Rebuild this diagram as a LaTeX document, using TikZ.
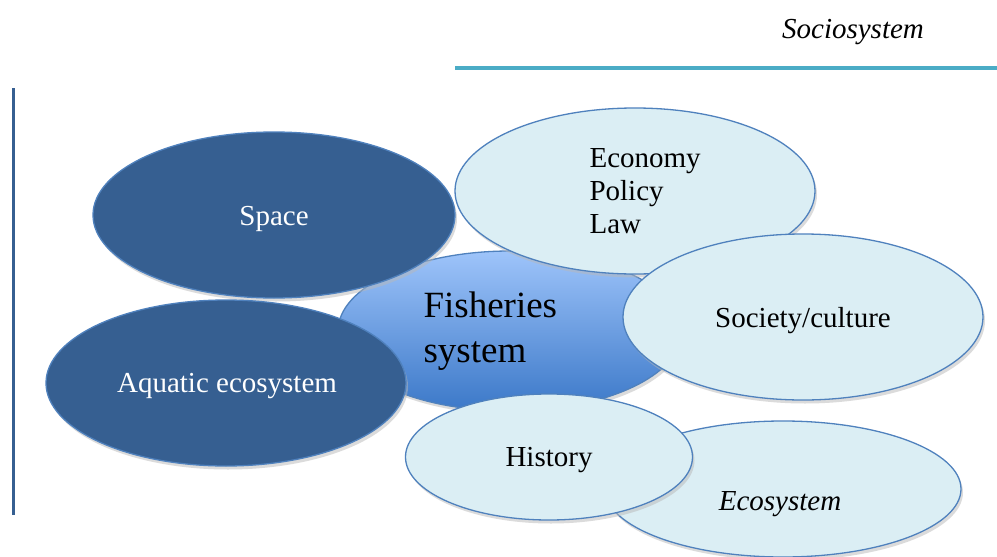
\documentclass[tikz,border=0pt]{standalone}
\usepackage{fontspec}
\setmainfont{Liberation Serif}
\usetikzlibrary{shapes.geometric,shadows}
\definecolor{darkfill}{HTML}{365F91}
\definecolor{edgeblue}{HTML}{4F81BD}
\definecolor{lightfill}{HTML}{DBEEF4}
\definecolor{tealline}{HTML}{4BACC6}
\definecolor{fishtop}{HTML}{9EC4FA}
\definecolor{fishbot}{HTML}{3B78C8}
\begin{document}
\begin{tikzpicture}[x=1pt,y=-1pt,
  txt/.style={font=\fontsize{29}{33}\selectfont},
  oval/.style={ellipse,draw=edgeblue,line width=1.3pt,inner sep=0pt,
    drop shadow={shadow xshift=2pt,shadow yshift=-3.5pt,fill=black!28}},
  darkoval/.style={oval,fill=darkfill},
  lightoval/.style={oval,fill=lightfill},
]
\useasboundingbox (0,0) rectangle (997,557);
\fill[white] (0,0) rectangle (997,557);
% frame lines
\coordinate (tl) at (455,68);
\coordinate (tr) at (997,68);
\draw[tealline,line width=3.5pt] (tl) -- (tr);
\coordinate (vt) at (13,88);
\coordinate (vb) at (13,515);
\draw[darkfill,line width=3pt] (vt) -- (vb);
\node[txt,font=\fontsize{29}{33}\selectfont\itshape] (socio) at (853,32) {Sociosystem};
% central
\node[oval,minimum width=344pt,minimum height=160pt,top color=fishtop,bottom color=fishbot] (fish) at (510,331) {};
\node[align=left,font=\fontsize{37}{45}\selectfont,anchor=west] (fishtxt) at (420,331) {Fisheries\\system};
% dark
\node[darkoval,minimum width=362pt,minimum height=166pt] (space) at (274,215) {};
\node[txt,text=white] (spacetxt) at (274,219) {Space};
\node[darkoval,minimum width=360pt,minimum height=166pt] (aqua) at (226,383) {};
\node[txt,text=white] (aquatxt) at (227,386) {Aquatic ecosystem};
% light
\node[lightoval,minimum width=360pt,minimum height=166pt] (econ) at (635,191) {};
\node[txt,align=left,anchor=west] (econtxt) at (586,191) {Economy\\Policy\\Law};
\node[lightoval,minimum width=360pt,minimum height=166pt] (soc) at (803,317) {};
\node[txt] (soctxt) at (803,321) {Society/culture};
\node[lightoval,minimum width=356pt,minimum height=136pt] (eco) at (783,489) {};
\node[txt,font=\fontsize{29}{33}\selectfont\itshape] (ecotxt) at (780,504) {Ecosystem};
\node[lightoval,minimum width=287pt,minimum height=126pt] (hist) at (549,457) {};
\node[txt] (histtxt) at (549,460) {History};
\end{tikzpicture}
\end{document}
